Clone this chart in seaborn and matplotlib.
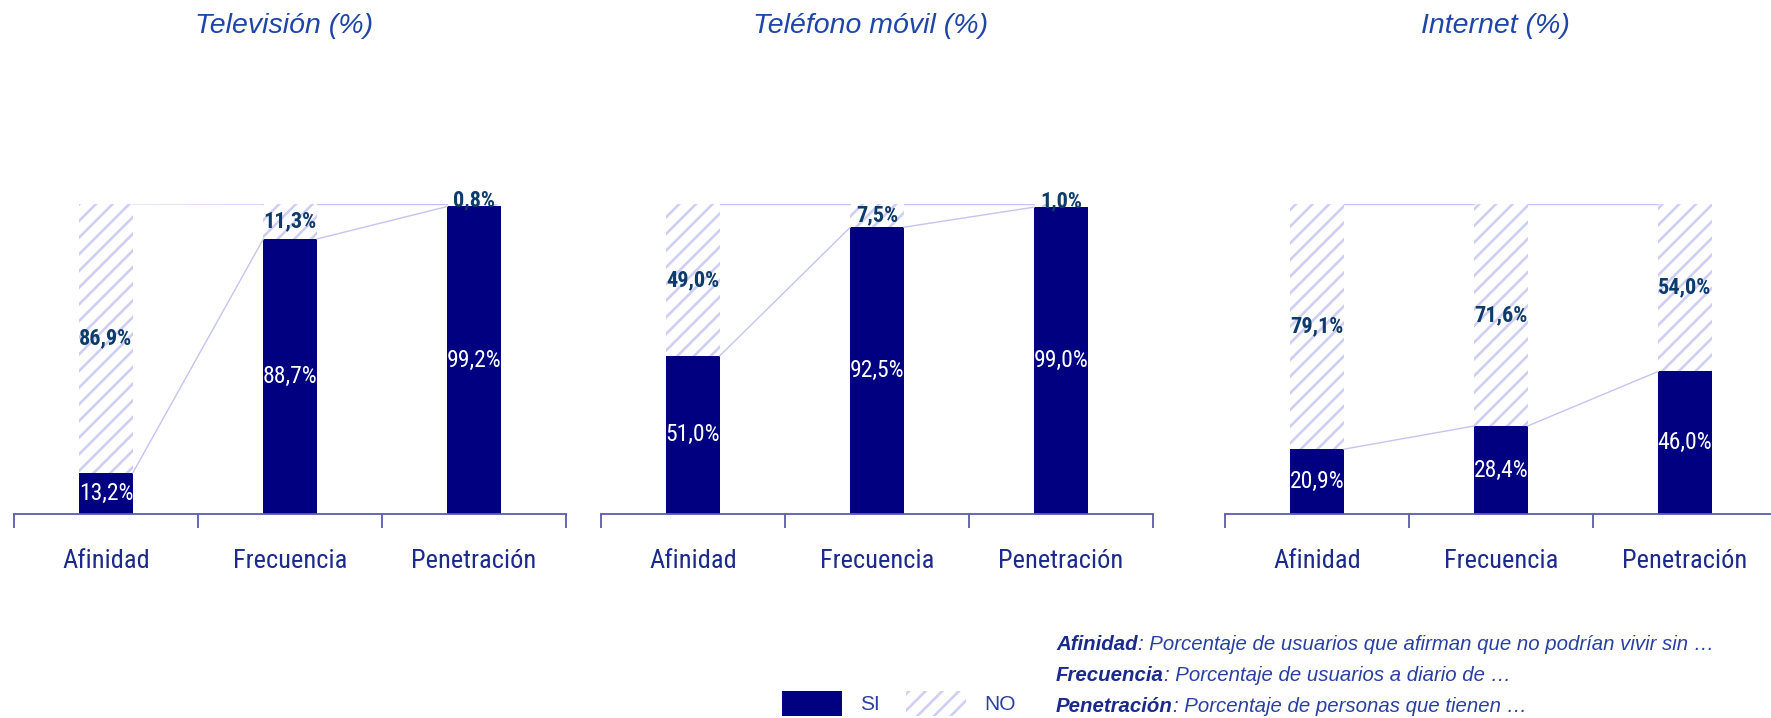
import numpy as np
import pandas as pd
import matplotlib
matplotlib.use("Agg")
import matplotlib.pyplot as plt
from matplotlib import font_manager
from matplotlib.patches import Patch
import seaborn as sns

# ---- data -------------------------------------------------------------
categories = ["Afinidad", "Frecuencia", "Penetración"]
panel_titles = ["Televisión (%)", "Teléfono móvil (%)", "Internet (%)"]

si_tv = [13.2, 88.7, 99.2]
no_tv = [86.9, 11.3, 0.8]
si_movil = [51.0, 92.5, 99.0]
no_movil = [49.0, 7.5, 1.0]
si_internet = [20.9, 28.4, 46.0]
no_internet = [79.1, 71.6, 54.0]

legend_labels = ["SI", "NO"]
note_terms = ["Afinidad", "Frecuencia", "Penetración"]
note_texts = [
    ": Porcentaje de usuarios que afirman que no podrían vivir sin …",
    ": Porcentaje de usuarios a diario de …",
    ": Porcentaje de personas que tienen …",
]

# ---- style ------------------------------------------------------------
NAVY = "#000080"
HATCH = "#cfcff6"
LINK = "#c4c4f2"
AXIS = "#5a5ab0"
TITLE = "#1f45a8"
NO_TXT = "#0d3b6b"
TICK_TXT = "#1c2a8c"
NOTE_TXT = "#2a40a0"
NOTE_BOLD = "#1a2a8a"
BW = 0.29


def has_font(name):
    try:
        font_manager.findfont(font_manager.FontProperties(family=name),
                              fallback_to_default=False)
        return True
    except Exception:
        return False


NARROW = next((f for f in ["Roboto Condensed", "Archivo Narrow",
                           "PT Sans Narrow", "Liberation Sans Narrow"]
               if has_font(f)), "Liberation Sans")

sns.set_theme(style="white")
plt.rcParams["font.family"] = ["Liberation Sans", "DejaVu Sans"]
plt.rcParams["hatch.linewidth"] = 1.9

FW, FH = 1771, 718
fig = plt.figure(figsize=(FW / 100, FH / 100), dpi=100)

lefts = [14, 601, 1225]
width = 552 / FW
bottom = (FH - 514) / FH
height = 310 / FH


def pct(v):
    return f"{v:.1f}".replace(".", ",") + "%"


panels = [(si_tv, no_tv), (si_movil, no_movil), (si_internet, no_internet)]

for k, (si, no) in enumerate(panels):
    ax = fig.add_axes([lefts[k] / FW, bottom, width, height])
    df = pd.DataFrame({"cat": categories, "si": si, "total": np.add(si, no)})

    # full bar (SI + NO) hatched, SI part drawn over it
    sns.barplot(data=df, x="cat", y="total", color="white", edgecolor=HATCH,
                hatch="//", linewidth=0, width=BW, saturation=1,
                errorbar=None, ax=ax)
    sns.barplot(data=df, x="cat", y="si", color=NAVY, linewidth=0, width=BW,
                saturation=1, errorbar=None, ax=ax)

    # links between neighbouring bars
    tot = df["total"].to_numpy()
    for i in range(len(categories) - 1):
        x0, x1 = i + BW / 2, i + 1 - BW / 2
        ax.plot([x0, x1], [si[i], si[i + 1]], color=LINK, lw=1.0, zorder=1)
        ax.plot([x0, x1], [tot[i], tot[i + 1]], color=LINK, lw=1.0, zorder=1)

    for i in range(len(categories)):
        ax.text(i, si[i] / 2, pct(si[i]), ha="center", va="center",
                color="white", fontsize=17, family=NARROW, zorder=5)
        if no[i] < 3:
            # thin segment: label sits on top of the bar
            ax.text(i, si[i], pct(no[i]), ha="center", va="baseline",
                    color=NO_TXT, fontsize=16, fontweight="bold",
                    family=NARROW, zorder=5, clip_on=False)
        else:
            ax.text(i, si[i] + no[i] / 2, pct(no[i]), ha="center",
                    va="center", color=NO_TXT, fontsize=16,
                    fontweight="bold", family=NARROW, zorder=5)

    ax.set_xlim(-0.5, len(categories) - 0.5)
    ax.set_ylim(0, 100)
    ax.set_xlabel("")
    ax.set_ylabel("")
    ax.set_yticks([])
    for s in ["left", "right", "top"]:
        ax.spines[s].set_visible(False)
    ax.spines["bottom"].set_color(AXIS)
    ax.spines["bottom"].set_linewidth(1.3)

    ax.set_xticks(range(len(categories)))
    ax.set_xticklabels(categories, family=NARROW, fontsize=19,
                       color=TICK_TXT)
    ax.set_xticks(np.arange(-0.5, len(categories)), minor=True)
    ax.tick_params(axis="x", which="major", length=0, pad=25.5)
    ax.tick_params(axis="x", which="minor", bottom=True, length=10,
                   width=1.3, color=AXIS, direction="out")
    ax.set_facecolor("white")

    fig.text((lefts[k] + 270) / FW, 1 - 26 / FH, panel_titles[k],
             ha="center", va="center", fontsize=20.5, style="italic",
             color=TITLE)

# legend
handles = [Patch(facecolor=NAVY, edgecolor=NAVY, lw=0, label=legend_labels[0]),
           Patch(facecolor="white", edgecolor=HATCH, hatch="//", lw=0,
                 label=legend_labels[1])]
fig.legend(handles=handles, ncol=2, loc="upper left",
           bbox_to_anchor=(782 / FW, 1 - 691 / FH), frameon=False,
           borderpad=0, borderaxespad=0, handlelength=2.88,
           handleheight=1.44, handletextpad=0.87, columnspacing=1.25,
           prop={"family": "Liberation Sans", "size": 15},
           labelcolor=NOTE_TXT)

# footnotes: bold term followed by its definition
renderer = fig.canvas.get_renderer()
for j, (term, txt) in enumerate(zip(note_terms, note_texts)):
    y = 1 - [650, 681, 712][j] / FH
    t1 = fig.text(1056 / FW, y, term, ha="left", va="baseline", fontsize=14.7,
                  style="italic", fontweight="bold", color=NOTE_BOLD)
    w = t1.get_window_extent(renderer).width
    fig.text((1056 + w) / FW, y, txt, ha="left", va="baseline", fontsize=14.7,
             style="italic", color=NOTE_TXT)

fig.savefig("out.png", dpi=100, facecolor="white")
